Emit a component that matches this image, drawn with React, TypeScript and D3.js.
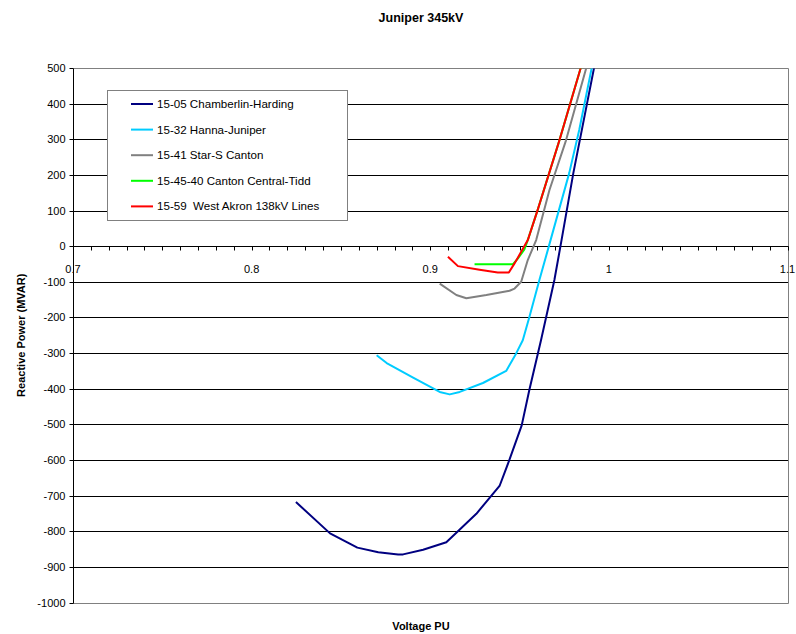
import React from "react";
import * as d3 from "d3";

type Pt = [number, number];

const seriesNames = [
  "15-05 Chamberlin-Harding",
  "15-32 Hanna-Juniper",
  "15-41 Star-S Canton",
  "15-45-40 Canton Central-Tidd",
  "15-59  West Akron 138kV Lines",
];
const seriesColors = ["#000080", "#00CCFF", "#808080", "#00FF00", "#FF0000"];

const chamberlinHarding: Pt[] = [
  [0.8248, -718], [0.8439, -806], [0.8592, -846], [0.8709, -859], [0.882, -865],
  [0.8848, -865], [0.896, -852], [0.909, -831], [0.9155, -800], [0.9258, -751],
  [0.9388, -673], [0.9443, -600], [0.9512, -503], [0.9555, -403], [0.962, -264],
  [0.9695, -95], [0.9735, 17], [0.9801, 205], [0.9918, 503], [0.9935, 545],
];
const hannaJuniper: Pt[] = [
  [0.87, -306], [0.8756, -328], [0.8904, -369], [0.9053, -409], [0.9109, -416],
  [0.9165, -409], [0.9295, -384], [0.9425, -350], [0.9481, -301], [0.9518, -264],
  [0.9555, -199], [0.9611, -95], [0.9663, -2], [0.9778, 205], [0.9834, 326],
  [0.9905, 503], [0.9925, 545],
];
const starSCanton: Pt[] = [
  [0.9053, -105], [0.9146, -137], [0.9202, -146], [0.9314, -137], [0.9444, -125],
  [0.9472, -119], [0.9509, -100], [0.9546, -39], [0.9593, 17], [0.9667, 157],
  [0.976, 297], [0.9875, 503], [0.9895, 545],
];
const cantonCentralTidd: Pt[] = [
  [0.9248, -51], [0.9462, -51], [0.949, -35], [0.9527, -9], [0.9546, 17],
  [0.9601, 101], [0.9723, 297], [0.9844, 503], [0.9865, 545],
];
const westAkron: Pt[] = [
  [0.9099, -30], [0.9155, -56], [0.9276, -66], [0.9378, -74], [0.944, -74],
  [0.9471, -49], [0.9509, -16], [0.9546, 17], [0.9601, 101], [0.9723, 297],
  [0.9844, 503], [0.9865, 545],
];
const allSeries = [chamberlinHarding, hannaJuniper, starSCanton, cantonCentralTidd, westAkron];

const xMajorTicks = [0.7, 0.8, 0.9, 1.0, 1.1];
const xTickLabels = ["0.7", "0.8", "0.9", "1", "1.1"];
const yTicks = [500, 400, 300, 200, 100, 0, -100, -200, -300, -400, -500, -600, -700, -800, -900, -1000];

const W = 796;
const H = 634;
const left = 73;
const right = 787.5;
const top = 68;
const bottom = 602.5;

export default function App() {
  const x = d3.scaleLinear().domain([0.7, 1.1]).range([left, right]);
  const y = d3.scaleLinear().domain([-1000, 500]).range([bottom, top]);
  const line = d3
    .line<Pt>()
    .x((d) => x(d[0]))
    .y((d) => y(d[1]));
  const minorTicks = d3.range(0, 41).map((i) => 0.7 + i * 0.01);
  const y0 = Math.round(y(0)) + 0.5;
  const font = "'Liberation Sans', Arial, sans-serif";
  const L = Math.round(left) + 0.5;
  const R = Math.round(right) + 0.5;
  const T = Math.round(top) + 0.5;
  const B = Math.round(bottom) + 0.5;

  return (
    <svg
      width={W}
      height={H}
      style={{ position: "absolute", left: 0, top: 0, background: "#fff" }}
      fontFamily={font}
    >
      <defs>
        <clipPath id="plotClip">
          <rect x={L} y={T} width={R - L} height={B - T} />
        </clipPath>
      </defs>
      <rect x={0} y={0} width={W} height={H} fill="#fff" />
      <text x={421} y={22} textAnchor="middle" fontWeight="bold" fontSize={12.5}>
        Juniper 345kV
      </text>
      {/* gridlines */}
      {yTicks
        .filter((t) => t !== 500 && t !== -1000)
        .map((t) => (
          <line
            key={"g" + t}
            x1={L}
            x2={R}
            y1={Math.round(y(t)) + 0.5}
            y2={Math.round(y(t)) + 0.5}
            stroke="#000"
            strokeWidth={1}
          />
        ))}
      {/* plot border (gray) */}
      <path d={`M${L},${T}H${R}V${B}H${L}`} fill="none" stroke="#808080" strokeWidth={1} />
      {/* y axis */}
      <line x1={L} x2={L} y1={T} y2={B} stroke="#000" />
      {yTicks.map((t) => (
        <g key={"yt" + t}>
          <line
            x1={L - 4}
            x2={L}
            y1={Math.round(y(t)) + 0.5}
            y2={Math.round(y(t)) + 0.5}
            stroke="#000"
          />
          <text x={L - 8} y={y(t) + 4} textAnchor="end" fontSize={11}>
            {t}
          </text>
        </g>
      ))}
      {/* x axis at y=0 */}
      <line x1={L} x2={R} y1={y0} y2={y0} stroke="#000" />
      {minorTicks.map((t, i) => (
        <line
          key={"xt" + i}
          x1={Math.round(x(t)) + 0.5}
          x2={Math.round(x(t)) + 0.5}
          y1={y0}
          y2={y0 + 4}
          stroke="#000"
        />
      ))}
      {xMajorTicks.map((t, i) => (
        <text key={"xl" + i} x={x(t)} y={y0 + 26} textAnchor="middle" fontSize={11}>
          {xTickLabels[i]}
        </text>
      ))}
      {/* series */}
      <g clipPath="url(#plotClip)">
        {allSeries.map((s, i) => (
          <path
            key={"s" + i}
            d={line(s) || ""}
            fill="none"
            stroke={seriesColors[i]}
            strokeWidth={2}
            strokeLinejoin="round"
          />
        ))}
      </g>
      {/* legend */}
      <rect x={107.5} y={90.5} width={240} height={130} fill="#fff" stroke="#808080" strokeWidth={1} />
      {seriesNames.map((n, i) => {
        const ly = 104 + i * 25.6;
        return (
          <g key={"lg" + i}>
            <line x1={131} x2={153} y1={ly} y2={ly} stroke={seriesColors[i]} strokeWidth={2} />
            <text x={157} y={ly + 4} fontSize={11.6} style={{ whiteSpace: "pre" }}>
              {n}
            </text>
          </g>
        );
      })}
      <text x={421} y={630} textAnchor="middle" fontWeight="bold" fontSize={11}>
        Voltage PU
      </text>
      <text
        transform={`translate(25, ${(top + bottom) / 2}) rotate(-90)`}
        textAnchor="middle"
        fontWeight="bold"
        fontSize={11}
      >
        Reactive Power (MVAR)
      </text>
    </svg>
  );
}
